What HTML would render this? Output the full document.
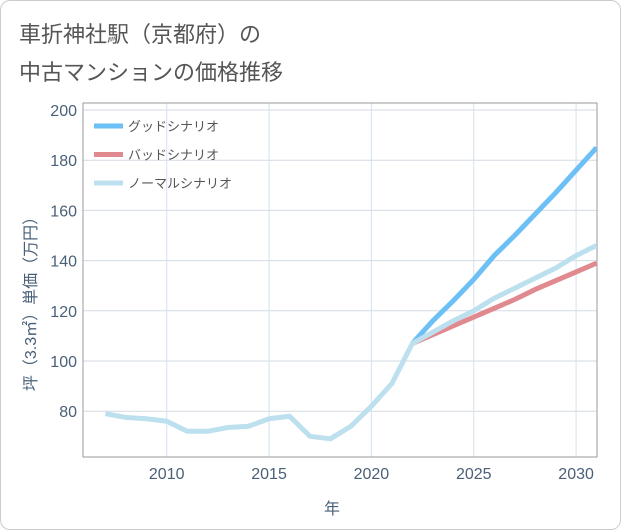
<!DOCTYPE html>
<html><head><meta charset="utf-8"><style>
body{margin:0;background:#fff;}
#wrap{position:relative;width:619px;height:528px;border:1px solid #ccc;border-radius:10px;overflow:hidden;font-family:"Liberation Sans","Noto Sans CJK JP",sans-serif;}
.title{position:absolute;left:18px;font-size:22px;color:#555;}
</style></head><body>
<div id="wrap">
<div class="title" style="top:16px">車折神社駅（京都府）の</div>
<div class="title" style="top:54px">中古マンションの価格推移</div>
<svg id="chart" width="621" height="530" style="position:absolute;left:-1px;top:-1px"></svg>
</div>
<script>
const normalYears=[2007,2008,2009,2010,2011,2012,2013,2014,2015,2016,2017,2018,2019,2020,2021,2022,2023,2024,2025,2026,2027,2028,2029,2030,2031];
const normalVals=[79,77.5,77,76,72,72,73.5,74,77,78,70,69,74,82,91,107,111.5,116,120,125,129,133,137,142,146];
const goodYears=[2022,2023,2024,2025,2026,2027,2028,2029,2030,2031];
const goodVals=[107,116,124,132.5,142,150,158.5,167,176,185];
const badYears=[2022,2023,2024,2025,2026,2027,2028,2029,2030,2031];
const badVals=[107,110.5,114,117.5,121,124.5,128.5,132,135.5,139];
const yTicks=[80,100,120,140,160,180,200];
const xTicks=[2010,2015,2020,2025,2030];
const legendLabels=["グッドシナリオ","バッドシナリオ","ノーマルシナリオ"];
const legendColors=["#6cc0f5","#e08a90","#bde0ef"];
const L=83,R=597,T=103,B=457;
const X=v=>166.7+(v-2010)*20.47;
const Y=v=>110+(200-v)*50.2/20;
const svg=document.getElementById('chart');
const NS='http://www.w3.org/2000/svg';
function mk(t,a){const e=document.createElementNS(NS,t);for(const k in a)e.setAttribute(k,a[k]);svg.appendChild(e);return e;}
yTicks.forEach(v=>{const l=mk('line',{x1:L,x2:R,y1:Y(v),y2:Y(v),stroke:'#d3dbe4','stroke-width':1});

const t=mk('text',{x:L-6,y:Y(v)+6,'text-anchor':'end','font-size':16,fill:'#4a6078'});t.textContent=v;
});
xTicks.forEach(v=>{const l=mk('line',{x1:X(v),x2:X(v),y1:T,y2:B,stroke:'#d3e2ee','stroke-width':1});

const t=mk('text',{x:X(v),y:B+22,'text-anchor':'middle','font-size':16,fill:'#4a6078'});t.textContent=v;
});
const fr=mk('rect',{x:L,y:T,width:R-L,height:B-T,fill:'none',stroke:'#999','stroke-width':1});

const clip=mk('clipPath',{id:'cp'});const cr=document.createElementNS(NS,'rect');cr.setAttribute('x',L);cr.setAttribute('y',T);cr.setAttribute('width',R-L);cr.setAttribute('height',B-T);clip.appendChild(cr);
function line(xs,vs,c,name){const p=mk('polyline',{points:xs.map((x,i)=>X(x)+','+Y(vs[i])).join(' '),fill:'none',stroke:c,'stroke-width':5,'stroke-linejoin':'round','clip-path':'url(#cp)'});
}
line(goodYears,goodVals,legendColors[0],'good-scenario-line');
line(badYears,badVals,legendColors[1],'bad-scenario-line');
line(normalYears,normalVals,legendColors[2],'normal-scenario-line');
legendLabels.forEach((s,i)=>{const y=126+i*28.5;
const l=mk('line',{x1:94,x2:123,y1:y,y2:y,stroke:legendColors[i],'stroke-width':5});

const t=mk('text',{x:128,y:y+5,'font-size':13,fill:'#555'});t.textContent=s;
});
const yt=mk('text',{x:0,y:0,'font-size':16,fill:'#4a6078','text-anchor':'middle',transform:'translate(36,300) rotate(-90)'});yt.textContent='坪（3.3㎡）単価（万円）';

const xt=mk('text',{x:332,y:514,'font-size':16,fill:'#4a6078','text-anchor':'middle'});xt.textContent='年';

</script>
</body></html>
